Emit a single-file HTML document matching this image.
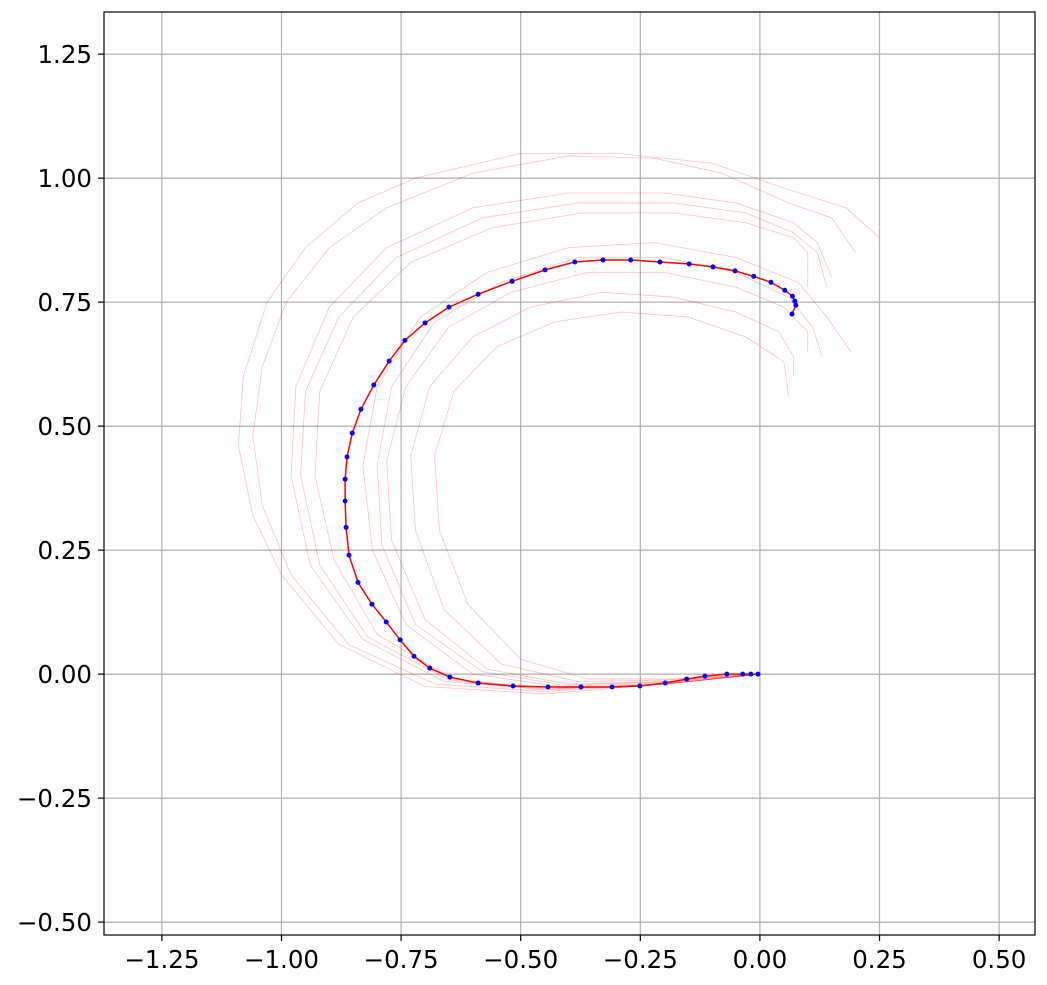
<!DOCTYPE html>
<html><head><meta charset="utf-8">
<style>
html,body{margin:0;padding:0;background:#fff;}
svg{display:block;font-family:"DejaVu Sans","Liberation Sans",sans-serif;}
</style></head>
<body>
<svg id="chart" width="1047" height="985" viewBox="0 0 1047 985"></svg>
<script>
const xTicks=[-1.25,-1.00,-0.75,-0.50,-0.25,0.00,0.25,0.50];
const yTicks=[-0.50,-0.25,0.00,0.25,0.50,0.75,1.00,1.25];
const xTickLabels=["\u22121.25","\u22121.00","\u22120.75","\u22120.50","\u22120.25","0.00","0.25","0.50"];
const yTickLabels=["\u22120.50","\u22120.25","0.00","0.25","0.50","0.75","1.00","1.25"];
const mainX=[-0.004,-0.019,-0.036,-0.069,-0.115,-0.153,-0.198,-0.251,-0.309,-0.374,-0.443,-0.516,-0.589,-0.648,-0.690,-0.723,-0.752,-0.781,-0.811,-0.840,-0.859,-0.865,-0.867,-0.867,-0.863,-0.852,-0.834,-0.807,-0.775,-0.742,-0.700,-0.650,-0.589,-0.518,-0.449,-0.387,-0.328,-0.270,-0.209,-0.148,-0.098,-0.052,-0.013,0.023,0.052,0.068,0.073,0.075,0.067];
const mainY=[0,0,0,0,-0.004,-0.010,-0.018,-0.024,-0.026,-0.026,-0.026,-0.024,-0.018,-0.006,0.012,0.036,0.069,0.105,0.141,0.185,0.240,0.296,0.349,0.393,0.438,0.486,0.534,0.583,0.631,0.673,0.708,0.740,0.766,0.792,0.815,0.831,0.835,0.835,0.831,0.827,0.821,0.813,0.802,0.790,0.774,0.762,0.752,0.744,0.726];
const faintCurves=[
[[0,0],[-0.2,-0.02],[-0.45,-0.04],[-0.7,-0.025],[-0.88,0.06],[-1.0,0.2],[-1.06,0.32],[-1.09,0.46],[-1.08,0.60],[-1.03,0.75],[-0.95,0.86],[-0.84,0.95],[-0.72,1.00],[-0.5,1.05],[-0.3,1.05],[-0.1,1.03],[0.05,0.98],[0.18,0.94],[0.25,0.88]],
[[0,0],[-0.2,-0.02],[-0.45,-0.035],[-0.68,-0.02],[-0.86,0.06],[-0.98,0.2],[-1.04,0.34],[-1.06,0.48],[-1.04,0.62],[-0.99,0.75],[-0.9,0.86],[-0.78,0.94],[-0.6,1.01],[-0.4,1.045],[-0.22,1.04],[-0.08,1.01],[0.06,0.95],[0.15,0.92],[0.2,0.85]],
[[0,0],[-0.2,-0.02],[-0.45,-0.03],[-0.66,-0.015],[-0.83,0.07],[-0.94,0.22],[-0.98,0.40],[-0.97,0.58],[-0.9,0.74],[-0.78,0.86],[-0.6,0.94],[-0.4,0.97],[-0.2,0.97],[-0.05,0.95],[0.07,0.91],[0.12,0.87],[0.15,0.80]],
[[0,0],[-0.2,-0.02],[-0.45,-0.032],[-0.65,-0.012],[-0.82,0.075],[-0.92,0.22],[-0.96,0.40],[-0.95,0.57],[-0.88,0.72],[-0.76,0.84],[-0.58,0.92],[-0.38,0.95],[-0.18,0.95],[-0.03,0.93],[0.07,0.89],[0.12,0.85],[0.14,0.78]],
[[0,0],[-0.2,-0.02],[-0.44,-0.03],[-0.64,-0.01],[-0.8,0.08],[-0.89,0.23],[-0.93,0.40],[-0.92,0.57],[-0.85,0.72],[-0.73,0.83],[-0.56,0.90],[-0.37,0.93],[-0.18,0.93],[-0.03,0.91],[0.07,0.88],[0.1,0.85],[0.1,0.78]],
[[0,0],[-0.2,-0.018],[-0.42,-0.025],[-0.6,0.0],[-0.74,0.1],[-0.81,0.25],[-0.83,0.42],[-0.8,0.58],[-0.71,0.72],[-0.57,0.81],[-0.4,0.86],[-0.22,0.87],[-0.05,0.84],[0.08,0.79],[0.14,0.72],[0.19,0.65]],
[[0,0],[-0.2,-0.016],[-0.41,-0.022],[-0.58,0.005],[-0.72,0.1],[-0.79,0.26],[-0.8,0.42],[-0.77,0.58],[-0.68,0.71],[-0.54,0.79],[-0.38,0.84],[-0.2,0.84],[-0.05,0.81],[0.06,0.76],[0.11,0.70],[0.13,0.64]],
[[0,0],[-0.2,-0.015],[-0.4,-0.02],[-0.57,0.01],[-0.7,0.11],[-0.77,0.27],[-0.78,0.43],[-0.74,0.58],[-0.65,0.7],[-0.52,0.77],[-0.36,0.81],[-0.2,0.81],[-0.05,0.78],[0.05,0.74],[0.1,0.69],[0.1,0.65]],
[[0,0],[-0.2,-0.012],[-0.38,-0.015],[-0.54,0.02],[-0.66,0.13],[-0.72,0.29],[-0.73,0.44],[-0.69,0.58],[-0.6,0.68],[-0.48,0.74],[-0.33,0.77],[-0.18,0.76],[-0.05,0.73],[0.04,0.69],[0.07,0.64],[0.07,0.60]],
[[0,0],[-0.18,-0.01],[-0.36,-0.01],[-0.5,0.03],[-0.61,0.14],[-0.67,0.29],[-0.68,0.44],[-0.64,0.57],[-0.55,0.66],[-0.43,0.71],[-0.29,0.73],[-0.15,0.72],[-0.03,0.68],[0.05,0.63],[0.06,0.56]]
];
const X0=-1.371,X1=0.575,Y0=-0.526,Y1=1.335;
const L=104,R=1035,T=12,B=935;
const sx=v=>L+(v-X0)/(X1-X0)*(R-L);
const sy=v=>B-(v-Y0)/(Y1-Y0)*(B-T);
const svg=document.getElementById('chart');
const NS='http://www.w3.org/2000/svg';
function mk(tag,attrs,parent){const e=document.createElementNS(NS,tag);for(const k in attrs)e.setAttribute(k,attrs[k]);(parent||svg).appendChild(e);return e;}
const clip=mk('clipPath',{id:'pc'});mk('rect',{x:L,y:T,width:R-L,height:B-T},clip);
xTicks.forEach((t,i)=>{
 const g=mk('line',{x1:sx(t),x2:sx(t),y1:T,y2:B,stroke:'#b0b0b0','stroke-width':1.2});
 
 
 mk('line',{x1:sx(t),x2:sx(t),y1:B,y2:B+6,stroke:'#000','stroke-width':1.2});
 const tx=mk('text',{x:sx(t),y:B+33,'text-anchor':'middle','font-size':24.5,fill:'#000'});
 tx.textContent=xTickLabels[i];
 
 
});
yTicks.forEach((t,i)=>{
 const g=mk('line',{x1:L,x2:R,y1:sy(t),y2:sy(t),stroke:'#b0b0b0','stroke-width':1.2});
 
 
 mk('line',{x1:L-6,x2:L,y1:sy(t),y2:sy(t),stroke:'#000','stroke-width':1.2});
 const tx=mk('text',{x:L-12,y:sy(t)+9,'text-anchor':'end','font-size':24.5,fill:'#000'});
 tx.textContent=yTickLabels[i];
 
 
});
const gp=mk('g',{'clip-path':'url(#pc)'});
faintCurves.forEach(c=>{
 const p=mk('polyline',{points:c.map(q=>sx(q[0])+','+sy(q[1])).join(' '),fill:'none',stroke:'#ff0000','stroke-opacity':0.25,'stroke-width':0.8},gp);
 
 
});
const ml=mk('polyline',{points:mainX.map((x,i)=>sx(x)+','+sy(mainY[i])).join(' '),fill:'none',stroke:'#ff0000','stroke-width':1.5},gp);


mainX.forEach((x,i)=>{
 const c=mk('circle',{cx:sx(x),cy:sy(mainY[i]),r:2.5,fill:'#0000ff'},gp);
 
 
});
const fr=mk('rect',{x:L,y:T,width:R-L,height:B-T,fill:'none',stroke:'#000','stroke-width':1.2});


</script>
</body></html>
